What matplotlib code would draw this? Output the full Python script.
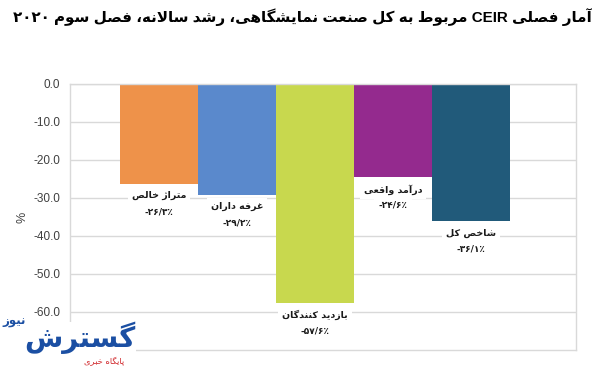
import re
import matplotlib
matplotlib.use("Agg")
import matplotlib.pyplot as plt

# ---------------- data ----------------
categories = ["متراژ خالص", "غرفه داران", "بازدید کنندگان", "درآمد واقعی", "شاخص کل"]
values = [-26.3, -29.2, -57.6, -24.6, -36.1]
colors = ["#EE924A", "#5A89CC", "#C8D84E", "#942A8E", "#215A7A"]
yticks = [0, -10, -20, -30, -40, -50, -60]
title = "آمار فصلی CEIR مربوط به کل صنعت نمایشگاهی، رشد سالانه، فصل سوم ۲۰۲۰"
ylabel = "%"

# ---------------- minimal Persian shaping + bidi ----------------
FORMS = {
    '\u0627': ('\uFE8D', '\uFE8E', None, None),
    '\u0622': ('\uFE81', '\uFE82', None, None),
    '\u0628': ('\uFE8F', '\uFE90', '\uFE91', '\uFE92'),
    '\u067E': ('\uFB56', '\uFB57', '\uFB58', '\uFB59'),
    '\u062A': ('\uFE95', '\uFE96', '\uFE97', '\uFE98'),
    '\u062B': ('\uFE99', '\uFE9A', '\uFE9B', '\uFE9C'),
    '\u062C': ('\uFE9D', '\uFE9E', '\uFE9F', '\uFEA0'),
    '\u0686': ('\uFB7A', '\uFB7B', '\uFB7C', '\uFB7D'),
    '\u062D': ('\uFEA1', '\uFEA2', '\uFEA3', '\uFEA4'),
    '\u062E': ('\uFEA5', '\uFEA6', '\uFEA7', '\uFEA8'),
    '\u062F': ('\uFEA9', '\uFEAA', None, None),
    '\u0630': ('\uFEAB', '\uFEAC', None, None),
    '\u0631': ('\uFEAD', '\uFEAE', None, None),
    '\u0632': ('\uFEAF', '\uFEB0', None, None),
    '\u0698': ('\uFB8A', '\uFB8B', None, None),
    '\u0633': ('\uFEB1', '\uFEB2', '\uFEB3', '\uFEB4'),
    '\u0634': ('\uFEB5', '\uFEB6', '\uFEB7', '\uFEB8'),
    '\u0635': ('\uFEB9', '\uFEBA', '\uFEBB', '\uFEBC'),
    '\u0636': ('\uFEBD', '\uFEBE', '\uFEBF', '\uFEC0'),
    '\u0637': ('\uFEC1', '\uFEC2', '\uFEC3', '\uFEC4'),
    '\u0638': ('\uFEC5', '\uFEC6', '\uFEC7', '\uFEC8'),
    '\u0639': ('\uFEC9', '\uFECA', '\uFECB', '\uFECC'),
    '\u063A': ('\uFECD', '\uFECE', '\uFECF', '\uFED0'),
    '\u0641': ('\uFED1', '\uFED2', '\uFED3', '\uFED4'),
    '\u0642': ('\uFED5', '\uFED6', '\uFED7', '\uFED8'),
    '\u06A9': ('\uFB8E', '\uFB8F', '\uFB90', '\uFB91'),
    '\u06AF': ('\uFB92', '\uFB93', '\uFB94', '\uFB95'),
    '\u0644': ('\uFEDD', '\uFEDE', '\uFEDF', '\uFEE0'),
    '\u0645': ('\uFEE1', '\uFEE2', '\uFEE3', '\uFEE4'),
    '\u0646': ('\uFEE5', '\uFEE6', '\uFEE7', '\uFEE8'),
    '\u0647': ('\uFEE9', '\uFEEA', '\uFEEB', '\uFEEC'),
    '\u0648': ('\uFEED', '\uFEEE', None, None),
    '\u06CC': ('\uFBFC', '\uFBFD', '\uFBFE', '\uFBFF'),
}
LAMALEF = {'\u0627': ('\uFEFB', '\uFEFC'), '\u0622': ('\uFEF5', '\uFEF6')}


def _dual(c):
    return c in FORMS and FORMS[c][2] is not None


def shape(text):
    out = []
    i = 0
    n = len(text)
    while i < n:
        c = text[i]
        if c not in FORMS:
            out.append(c)
            i += 1
            continue
        prev = text[i - 1] if i > 0 else ''
        jp = _dual(prev)
        if c == '\u0644' and i + 1 < n and text[i + 1] in LAMALEF:
            out.append(LAMALEF[text[i + 1]][1 if jp else 0])
            i += 2
            continue
        nxt = text[i + 1] if i + 1 < n else ''
        jn = _dual(c) and nxt in FORMS
        iso, fin, ini, med = FORMS[c]
        if jp and jn:
            out.append(med)
        elif jp:
            out.append(fin)
        elif jn:
            out.append(ini)
        else:
            out.append(iso)
        i += 1
    return ''.join(out)


def rtl(text):
    s = shape(text)
    parts = re.split(r'([A-Za-z0-9\u06F0-\u06F9]+)', s)
    vis = []
    for p in reversed(parts):
        if re.fullmatch(r'[A-Za-z0-9\u06F0-\u06F9]+', p or ''):
            vis.append(p)
        else:
            vis.append(p[::-1])
    return ''.join(vis)


FA_DIGITS = str.maketrans('0123456789', '۰۱۲۳۴۵۶۷۸۹')


def fa_pct(v):
    return '-' + f"{abs(v):.1f}".replace('.', '/').translate(FA_DIGITS) + '٪'


# ---------------- figure ----------------
FAM = ['Liberation Sans', 'DejaVu Sans']
fig = plt.figure(figsize=(6.0, 3.67), dpi=100)
ax = fig.add_axes([70 / 600, 1 - 350 / 367, 506 / 600, 266 / 367])

x = list(range(len(values)))
ax.bar(x, values, width=1.0, color=colors, zorder=2)
ax.set_xlim(-1.141, 5.346)
ax.set_ylim(-70, 0)
ax.set_yticks(yticks)
ax.set_yticklabels([f"{t:.1f}" for t in yticks], fontsize=8.5, color='#404040',
                   family=FAM)
ax.set_xticks([])
ax.tick_params(axis='y', length=0, pad=7)
ax.grid(axis='y', color='#D9D9D9', linewidth=1.0, zorder=0)
for sp in ax.spines.values():
    sp.set_color('#D9D9D9')
    sp.set_linewidth(1.0)
fig.text(22 / 600, 1 - 217 / 367, ylabel, rotation=90, ha='center', va='center',
         fontsize=9, color='#404040', family=FAM)

for xi, v, name in zip(x, values, categories):
    ax.text(xi, v - 3.1, rtl(name), ha='center', va='center', fontsize=6.8,
            fontweight='bold', family=['DejaVu Sans'], color='#1a1a1a', zorder=4,
            bbox=dict(facecolor='white', edgecolor='none', pad=3))
    ax.text(xi, v - 7.3, fa_pct(v), ha='center', va='center', fontsize=6.5,
            fontweight='bold', family=['DejaVu Sans'], color='#1a1a1a', zorder=4,
            bbox=dict(facecolor='white', edgecolor='none', pad=3))

fig.text(592 / 600, 1 - 17 / 367, rtl(title), ha='right', va='center',
         fontsize=10.9, fontweight='bold', family=FAM, color='black')

# watermark logo (bottom-left)
fig.text(80 / 600, 1 - 338 / 367, rtl("گسترش"), ha='center', va='center',
         fontsize=20, fontweight='bold', color='#1B4FA3', family=['DejaVu Sans'],
         bbox=dict(facecolor='white', edgecolor='none', pad=0))
fig.text(14 / 600, 1 - 322 / 367, rtl("نیوز"), ha='center', va='center',
         fontsize=8.5, fontweight='bold', color='#1B4FA3', family=['DejaVu Sans'])
fig.text(104 / 600, 1 - 362 / 367, rtl("پایگاه خبری"), ha='center', va='center',
         fontsize=6, color='#D0262A', family=['DejaVu Sans'])

fig.savefig("out.png", dpi=100)
